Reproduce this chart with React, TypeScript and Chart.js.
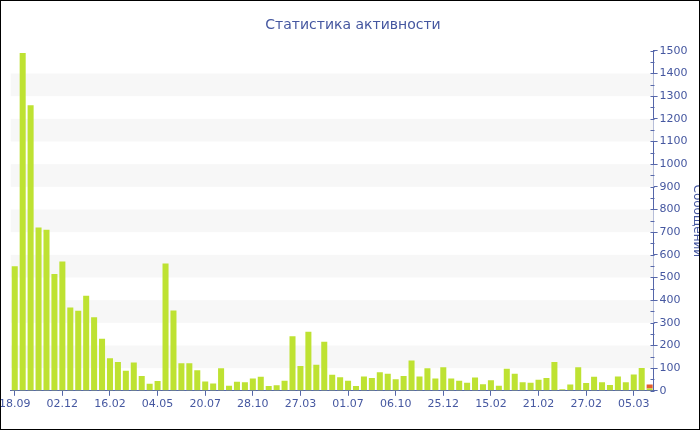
import React, { useEffect, useRef } from 'react';
import { Chart, registerables } from 'chart.js';

Chart.register(...registerables);

const chartTitle = 'Статистика активности';
const yTitle = 'Сообщений';
const tickLabels = ['18.09', '02.12', '16.02', '04.05', '20.07', '28.10', '27.03', '01.07', '06.10', '25.12', '15.02', '21.02', '27.02', '05.03'];
const labelStep = 6;

const greenValues = [
  550, 1490, 1260, 720, 710, 515, 570, 368, 353, 419,
  325, 230, 144, 127, 88, 125, 65, 31, 43, 562,
  354, 122, 121, 91, 41, 32, 100, 22, 40, 38,
  54, 62, 21, 24, 44, 241, 109, 260, 115, 216,
  71, 60, 44, 21, 63, 56, 82, 75, 51, 65,
  134, 63, 100, 54, 104, 54, 44, 35, 59, 29,
  46, 22, 97, 75, 38, 35, 49, 57, 127, 7,
  28, 104, 34, 62, 38, 26, 63, 38, 72, 101,
  10,
];
const orangeValues = [
  0, 0, 0, 0, 0, 0, 0, 0, 0, 0,
  0, 0, 0, 0, 0, 0, 0, 0, 0, 0,
  0, 0, 0, 0, 0, 0, 0, 0, 0, 0,
  0, 0, 0, 0, 0, 0, 0, 0, 0, 0,
  0, 0, 0, 0, 0, 0, 0, 0, 0, 0,
  0, 0, 0, 0, 0, 0, 0, 0, 0, 0,
  0, 0, 0, 0, 0, 0, 0, 0, 0, 0,
  0, 0, 0, 0, 0, 0, 0, 0, 0, 0,
  18,
];
const yMin = 0;
const yMax = 1500;
const yStep = 100;
const yMinorStep = 50;

const categories = greenValues.map((_, i) => (i % labelStep === 0 ? tickLabels[i / labelStep] : ''));

const TEXT = '#4557a0';
const AXIS = '#5566aa';
const BAND = '#f7f7f7';
const FONT = "'DejaVu Sans', Verdana, sans-serif";

const CANVAS_LEFT = -3;
const CANVAS_W = 712;
const CANVAS_H = 430;

const bandPlugin = {
  id: 'bands',
  beforeDatasetsDraw(chart: any) {
    const { ctx, chartArea, scales } = chart;
    const y = scales.y;
    ctx.save();
    ctx.fillStyle = BAND;
    for (let v = yMin + yStep; v < yMax; v += yStep * 2) {
      const top = y.getPixelForValue(v + yStep);
      const bot = y.getPixelForValue(v);
      ctx.fillRect(chartArea.left, top, chartArea.right - chartArea.left, bot - top);
    }
    ctx.restore();
  },
};

const minorTickPlugin = {
  id: 'minorTicks',
  afterDraw(chart: any) {
    const { ctx, scales } = chart;
    const y = scales.y;
    const x0 = Math.round(y.left) + 0.5;
    ctx.save();
    ctx.strokeStyle = AXIS;
    ctx.lineWidth = 1;
    ctx.beginPath();
    for (let v = yMin; v <= yMax; v += yMinorStep) {
      const py = Math.round(y.getPixelForValue(v)) + 0.5;
      ctx.moveTo(x0 - 4, py);
      ctx.lineTo(x0, py);
    }
    ctx.stroke();
    ctx.restore();
  },
};

export default function App() {
  const ref = useRef<HTMLCanvasElement | null>(null);

  useEffect(() => {
    document.body.style.margin = '0';
    if (!ref.current) return;
    const chart = new Chart(ref.current, {
      type: 'bar',
      data: {
        labels: categories,
        datasets: [
          {
            data: greenValues,
            backgroundColor: '#bee232',
            borderWidth: 0,
            categoryPercentage: 0.76,
            barPercentage: 1,
          },
          {
            data: orangeValues,
            backgroundColor: '#e4602c',
            borderWidth: 0,
            categoryPercentage: 0.76,
            barPercentage: 1,
          },
        ],
      },
      options: {
        responsive: false,
        animation: false,
        events: [],
        layout: { padding: { left: 0, right: 0, top: 0, bottom: 17 } },
        plugins: {
          legend: { display: false },
          tooltip: { enabled: false },
          title: {
            display: true,
            text: chartTitle,
            color: TEXT,
            font: { family: FONT, size: 14, weight: 'normal' },
            padding: { top: 17, bottom: 17 },
          },
        },
        scales: {
          x: {
            stacked: true,
            offset: true,
            afterBuildTicks: (axis: any) => {
              axis.ticks = axis.ticks.filter((t: any) => t.value % labelStep === 0);
            },
            ticks: {
              autoSkip: false,
              maxRotation: 0,
              color: TEXT,
              font: { family: FONT, size: 11 },
              padding: 2,
            },
            grid: {
              display: true,
              offset: false,
              drawOnChartArea: false,
              drawTicks: true,
              tickLength: 5,
              color: AXIS,
            },
            border: { display: true, color: AXIS },
          },
          y: {
            stacked: true,
            position: 'right',
            min: yMin,
            max: yMax,
            ticks: {
              stepSize: yStep,
              color: TEXT,
              font: { family: FONT, size: 11 },
              padding: 2,
              callback: (v: any) => String(v),
            },
            grid: {
              display: true,
              drawOnChartArea: false,
              drawTicks: true,
              tickLength: 4,
              color: AXIS,
            },
            border: { display: true, color: AXIS },
            title: {
              display: true,
              text: yTitle,
              color: TEXT,
              font: { family: FONT, size: 12 },
              padding: { top: 5, bottom: 0 },
            },
          },
        },
      },
      plugins: [bandPlugin, minorTickPlugin],
    } as any);
    return () => chart.destroy();
  }, []);

  return (
    <div
      style={{
        position: 'fixed',
        left: 0,
        top: 0,
        width: 700,
        height: 430,
        overflow: 'hidden',
        background: '#ffffff',
      }}
    >
      <canvas
        ref={ref}
        width={CANVAS_W}
        height={CANVAS_H}
        style={{ position: 'absolute', left: CANVAS_LEFT, top: 0, width: CANVAS_W, height: CANVAS_H }}
      />
      <div
        style={{
          position: 'absolute',
          left: 0,
          top: 0,
          width: 700,
          height: 430,
          boxSizing: 'border-box',
          border: '1px solid #000000',
          pointerEvents: 'none',
        }}
      />
    </div>
  );
}
